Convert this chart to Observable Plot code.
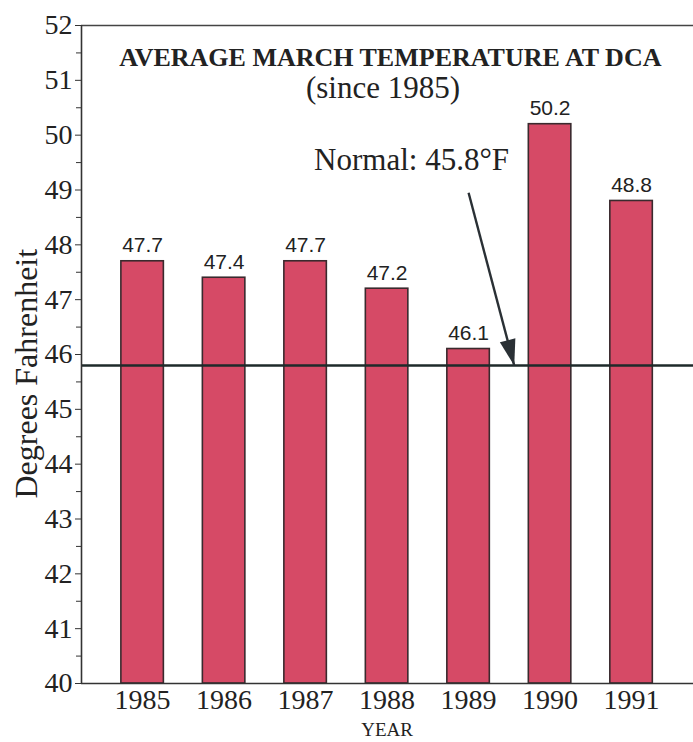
<!DOCTYPE html>
<html>
<head>
<meta charset="utf-8">
<script src="https://cdn.jsdelivr.net/npm/d3@7"></script>
<script src="https://cdn.jsdelivr.net/npm/@observablehq/plot@0.6"></script>
<style>
  html, body { margin: 0; padding: 0; background: #fff; }
  svg { display: block; }
</style>
</head>
<body>
<div id="chart"></div>
<script>
// ---- data ----
const years = [1985, 1986, 1987, 1988, 1989, 1990, 1991];
const temps = [47.7, 47.4, 47.7, 47.2, 46.1, 50.2, 48.8];
const normalTemp = 45.8;
const yTicks = [40, 41, 42, 43, 44, 45, 46, 47, 48, 49, 50, 51, 52];
const yMinorTicks = [40.5, 41.5, 42.5, 43.5, 44.5, 45.5, 46.5, 47.5, 48.5, 49.5, 50.5, 51.5];
const xDomain = [1984.25, 1991.76];
const yDomain = [40, 52];
const titleLines = ["AVERAGE MARCH TEMPERATURE AT DCA", "(since 1985)"];
const normalLabel = "Normal: 45.8°F";
const yLabel = "Degrees Fahrenheit";
const xLabel = "YEAR";
// annotation anchor points (data coordinates)
const noteText = [{x: 1988.3, y: 49.54}];
const noteArrow = [{x1: 1989.0, y1: 48.95, x2: 1989.56, y2: 45.8}];
const titlePos = [{x: 1988.04, y: 51.42}, {x: 1987.95, y: 50.85}];

const data = years.map((year, i) => ({year, temp: temps[i]}));

const serif = "Liberation Serif, Times New Roman, serif";
const sans = "Liberation Sans, Arial, sans-serif";

// filled arrowhead, tip at origin, pointing up before rotation
const arrowHead = {
  draw(context) {
    context.moveTo(0, 0);
    context.lineTo(-8, 26);
    context.lineTo(8, 26);
    context.closePath();
  }
};

const chart = Plot.plot({
  width: 693,
  height: 742,
  marginLeft: 81,
  marginRight: 0,
  marginTop: 25,
  marginBottom: 59,
  style: {fontFamily: serif, color: "#222", background: "#fff"},
  x: {type: "linear", domain: xDomain, label: null, axis: null},
  y: {domain: yDomain, label: null, axis: null},
  marks: [
    Plot.rectY(data, {
      x1: d => d.year - 0.5, x2: d => d.year + 0.5, y1: yDomain[0], y2: "temp",
      insetLeft: 19.5, insetRight: 19.5,
      fill: "#d64a66", stroke: "#3a2a2e", strokeWidth: 1.6
    }),
    Plot.text(data, {
      x: "year", y: "temp", text: d => d.temp.toFixed(1),
      dy: -9, lineAnchor: "bottom", fontSize: 21, fontFamily: sans, fill: "#222"
    }),
    Plot.ruleY([normalTemp], {stroke: "#1e2a2a", strokeWidth: 2.5}),
    Plot.ruleY([yDomain[0]], {stroke: "#333", strokeWidth: 1.6}),
    Plot.ruleY([yDomain[1]], {stroke: "#444", strokeWidth: 1.4}),
    Plot.ruleX([xDomain[0]], {stroke: "#333", strokeWidth: 1.6}),
    // y ticks (marks only) and labels as serif text
    Plot.axisY({ticks: yTicks, tickSize: 6, tickFormat: () => "", stroke: "#333"}),
    Plot.axisY({ticks: yMinorTicks, tickSize: 5, tickFormat: () => "", stroke: "#333"}),
    Plot.text(yTicks, {
      y: d => d, text: d => String(d), frameAnchor: "left", textAnchor: "end",
      dx: -9, fontSize: 28, fontFamily: serif, fill: "#222"
    }),
    Plot.text(years, {
      x: d => d, text: d => String(d), frameAnchor: "bottom", lineAnchor: "top",
      dy: 6, fontSize: 28, fontFamily: serif, fill: "#222"
    }),
    Plot.text([xLabel], {
      frameAnchor: "bottom", dy: 46, fontSize: 19, fontFamily: serif, fill: "#222",
      x: () => years[3], lineAnchor: "middle"
    }),
    Plot.text([yLabel], {
      frameAnchor: "left", dx: -55, rotate: -90, textAnchor: "middle",
      fontSize: 32, fontFamily: serif, fill: "#222",
      y: () => 45.65
    }),
    Plot.text([titleLines[0]], {
      x: titlePos[0].x, y: titlePos[0].y, fontSize: 26, fontWeight: "bold", fontFamily: serif, fill: "#222"
    }),
    Plot.text([titleLines[1]], {
      x: titlePos[1].x, y: titlePos[1].y, fontSize: 31, fontFamily: serif, fill: "#222"
    }),
    Plot.text(noteText, {x: "x", y: "y", text: () => normalLabel, fontSize: 31, fontFamily: serif, fill: "#222"}),
    Plot.link(noteArrow, {
      x1: "x1", y1: "y1", x2: "x2", y2: "y2",
      stroke: "#2a3035", strokeWidth: 2.4
    }),
    Plot.dot(noteArrow, {
      x: "x2", y: "y2", symbol: arrowHead, rotate: 165.3,
      fill: "#2a3035", stroke: "none"
    })
  ]
});

document.getElementById("chart").appendChild(chart);
</script>
</body>
</html>
